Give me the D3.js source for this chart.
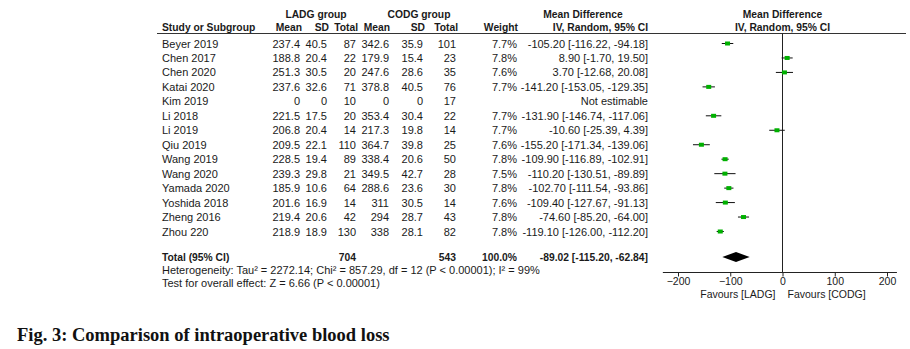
<!DOCTYPE html>
<html>
<head>
<meta charset="utf-8">
<script src="https://cdn.jsdelivr.net/npm/d3@7"></script>
<style>
  body { margin: 0; background: #fff; }
  text { font-family: "Liberation Sans", Arial, sans-serif; fill: #1a1a1a; }
  .b { font-weight: bold; }
</style>
</head>
<body>
<div id="chart"></div>
<script>
// Data
var studies   = ['Beyer 2019', 'Chen 2017', 'Chen 2020', 'Katai 2020', 'Kim 2019', 'Li 2018', 'Li 2019',
                 'Qiu 2019', 'Wang 2019', 'Wang 2020', 'Yamada 2020', 'Yoshida 2018', 'Zheng  2016', 'Zhou 220'];
var ladg_mean = [237.4, 188.8, 251.3, 237.6, 0, 221.5, 206.8, 209.5, 228.5, 239.3, 185.9, 201.6, 219.4, 218.9];
var ladg_sd   = [40.5, 20.4, 30.5, 32.6, 0, 17.5, 20.4, 22.1, 19.4, 29.8, 10.6, 16.9, 20.6, 18.9];
var ladg_n    = [87, 22, 20, 71, 10, 20, 14, 110, 89, 21, 64, 14, 42, 130];
var codg_mean = [342.6, 179.9, 247.6, 378.8, 0, 353.4, 217.3, 364.7, 338.4, 349.5, 288.6, 311, 294, 338];
var codg_sd   = [35.9, 15.4, 28.6, 40.5, 0, 30.4, 19.8, 39.8, 20.6, 42.7, 23.6, 30.5, 28.7, 28.1];
var codg_n    = [101, 23, 35, 76, 17, 22, 14, 25, 50, 28, 30, 14, 43, 82];
var weights   = [7.7, 7.8, 7.6, 7.7, null, 7.7, 7.7, 7.6, 7.8, 7.5, 7.8, 7.6, 7.8, 7.8];
var md        = [-105.20, 8.90, 3.70, -141.20, null, -131.90, -10.60, -155.20, -109.90, -110.20, -102.70, -109.40, -74.60, -119.10];
var ci_low    = [-116.22, -1.70, -12.68, -153.05, null, -146.74, -25.39, -171.34, -116.89, -130.51, -111.54, -127.67, -85.20, -126.00];
var ci_high   = [-94.18, 19.50, 20.08, -129.35, null, -117.06, 4.39, -139.06, -102.91, -89.89, -93.86, -91.13, -64.00, -112.20];
var total_n   = [704, 543];
var total_md  = [-89.02, -115.20, -62.84];
var axis_ticks = [-200, -100, 0, 100, 200];
var heterogeneity = 'Heterogeneity: Tau\u00b2 = 2272.14; Chi\u00b2 = 857.29, df = 12 (P < 0.00001); I\u00b2 = 99%';
var overall_test  = 'Test for overall effect: Z = 6.66 (P < 0.00001)';
var caption       = 'Fig. 3: Comparison of intraoperative blood loss';

var width = 910, height = 349;

var svg = d3.select('#chart')
    .append('svg')
    .attr('width', width)
    .attr('height', height);

// scales
var x = d3.scaleLinear().domain([-200, 200]).range([678, 887]);
var y = d3.scalePoint().domain(studies).range([43.5, 231.5]);
var total_y = 257;

var fmt2 = function(v){ return v.toFixed(2); };

// column right edges
var cols = { m1: 300, s1: 327, n1: 356, m2: 389, s2: 423, n2: 456, w: 517, md: 648 };

function txt(xp, yp, s, anchor, cls, size) {
    return svg.append('text')
        .attr('x', xp).attr('y', yp)
        .attr('font-size', size || (cls ? 10.3 : 11))
        .attr('text-anchor', anchor || 'start')
        .attr('class', cls || null)
        .text(s);
}

// headers
txt(316, 18, 'LADG group', 'middle', 'b');
txt(419, 18, 'CODG group', 'middle', 'b');
txt(162, 31, 'Study or Subgroup', 'start', 'b');
txt(cols.m1 + 2, 31, 'Mean', 'end', 'b');
txt(cols.s1 + 2, 31, 'SD', 'end', 'b');
txt(cols.n1 + 2, 31, 'Total', 'end', 'b');
txt(cols.m2 + 1, 31, 'Mean', 'end', 'b');
txt(cols.s2 + 2, 31, 'SD', 'end', 'b');
txt(cols.n2 + 2, 31, 'Total', 'end', 'b');
txt(cols.w + 1, 31, 'Weight', 'end', 'b');
txt(583, 18, 'Mean Difference', 'middle', 'b');
txt(cols.md, 31, 'IV, Random, 95% CI', 'end', 'b');
txt(x(0), 18, 'Mean Difference', 'middle', 'b');
txt(x(0), 31, 'IV, Random, 95% CI', 'middle', 'b');

svg.append('line')
    .attr('x1', 157).attr('x2', 906)
    .attr('y1', 33.5).attr('y2', 33.5)
    .attr('stroke', '#333').attr('stroke-width', 1);

// table rows
studies.forEach(function(s, i){
    var yy = y(s) + 4;
    txt(162, yy, s);
    txt(cols.m1, yy, String(ladg_mean[i]), 'end');
    txt(cols.s1, yy, String(ladg_sd[i]), 'end');
    txt(cols.n1, yy, String(ladg_n[i]), 'end');
    txt(cols.m2, yy, String(codg_mean[i]), 'end');
    txt(cols.s2, yy, String(codg_sd[i]), 'end');
    txt(cols.n2, yy, String(codg_n[i]), 'end');
    if (weights[i] !== null) {
        txt(cols.w, yy, weights[i].toFixed(1) + '%', 'end');
        txt(cols.md, yy, fmt2(md[i]) + ' [' + fmt2(ci_low[i]) + ', ' + fmt2(ci_high[i]) + ']', 'end');
    } else {
        txt(cols.md, yy, 'Not estimable', 'end');
    }
});

// totals
txt(162, total_y + 4, 'Total (95% CI)', 'start', 'b');
txt(cols.n1, total_y + 4, String(total_n[0]), 'end', 'b');
txt(cols.n2, total_y + 4, String(total_n[1]), 'end', 'b');
txt(cols.w, total_y + 4, '100.0%', 'end', 'b');
txt(cols.md, total_y + 4, fmt2(total_md[0]) + ' [' + fmt2(total_md[1]) + ', ' + fmt2(total_md[2]) + ']', 'end', 'b');
txt(162, 274, heterogeneity);
txt(162, 287, overall_test);

// forest plot
var plot = svg.append('g').attr('class', 'plot');

plot.append('line')
    .attr('x1', x(0)).attr('x2', x(0))
    .attr('y1', 33.5).attr('y2', 272.5)
    .attr('stroke', '#222');

var idx = d3.range(studies.length).filter(function(i){ return md[i] !== null; });

plot.selectAll('line.ci')
    .data(idx)
    .enter()
    .append('line')
    .attr('class', 'ci')
    .attr('x1', function(i){ return x(ci_low[i]); })
    .attr('x2', function(i){ return x(ci_high[i]); })
    .attr('y1', function(i){ return y(studies[i]); })
    .attr('y2', function(i){ return y(studies[i]); })
    .attr('stroke', '#111');

plot.selectAll('rect.sq')
    .data(idx)
    .enter()
    .append('rect')
    .attr('class', 'sq')
    .attr('x', function(i){ return x(md[i]) - 2.5; })
    .attr('y', function(i){ return y(studies[i]) - 2; })
    .attr('width', 5)
    .attr('height', 4)
    .attr('fill', '#00b000');

plot.append('path')
    .attr('d', d3.line()([
        [x(total_md[1]), total_y], [x(total_md[0]), total_y - 5],
        [x(total_md[2]), total_y], [x(total_md[0]), total_y + 5]
    ]) + 'Z')
    .attr('fill', '#000');

// axis
var axis_y = 272.5;
var ax = plot.append('g')
    .attr('transform', 'translate(0,' + axis_y + ')')
    .call(d3.axisBottom(x).tickValues(axis_ticks).tickSize(4).tickPadding(1));
ax.select('.domain').remove();
ax.selectAll('text').attr('font-size', 10.5).attr('font-family', '"Liberation Sans", Arial, sans-serif').attr('fill', '#1a1a1a');
ax.selectAll('line').attr('stroke', '#222');
ax.append('line')
    .attr('x1', x(-229)).attr('x2', x(219))
    .attr('stroke', '#222');

txt(x(0) - 7, 297.5, 'Favours [LADG]', 'end', null, 10.5);
txt(x(0) + 5, 297.5, 'Favours [CODG]', 'start', null, 10.5);

// caption
svg.append('text')
    .attr('x', 17).attr('y', 341)
    .attr('font-size', 18.5)
    .attr('font-weight', 'bold')
    .style('font-family', '"Liberation Serif", "Times New Roman", serif')
    .style('fill', '#111')
    .text(caption);
</script>
</body>
</html>
